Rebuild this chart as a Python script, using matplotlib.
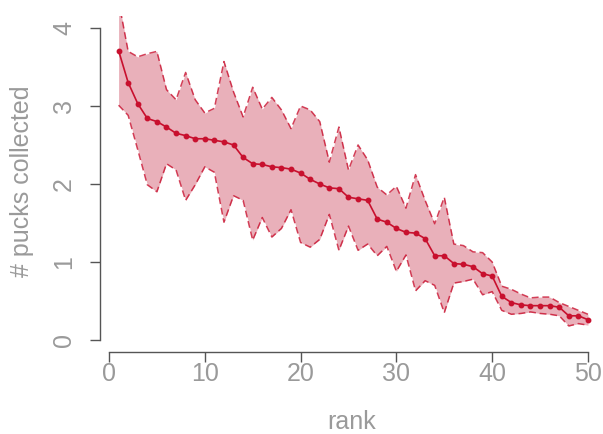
#!/usr/bin/env python3
import matplotlib

matplotlib.use("Agg")
import matplotlib.pyplot as plt
import numpy as np

# rank 1..50, mean and band bounds
rank = np.arange(1, 51)
mean_pucks = [
    3.71, 3.30, 3.03, 2.84, 2.80, 2.73, 2.65, 2.62, 2.58, 2.58,
    2.56, 2.54, 2.50, 2.34, 2.26, 2.25, 2.22, 2.21, 2.19, 2.14,
    2.06, 2.00, 1.95, 1.94, 1.83, 1.81, 1.79, 1.55, 1.51, 1.43,
    1.38, 1.37, 1.30, 1.08, 1.08, 0.98, 0.97, 0.94, 0.85, 0.82,
    0.56, 0.48, 0.45, 0.44, 0.44, 0.44, 0.42, 0.31, 0.31, 0.26,
]
upper_pucks = [
    4.35, 3.70, 3.63, 3.67, 3.70, 3.21, 3.08, 3.43, 3.08, 2.91,
    2.97, 3.57, 3.18, 2.86, 3.24, 2.96, 3.11, 2.95, 2.71, 3.00,
    2.95, 2.80, 2.28, 2.73, 2.18, 2.50, 2.31, 1.96, 1.86, 1.97,
    1.69, 2.12, 1.79, 1.49, 1.83, 1.23, 1.21, 1.13, 1.12, 1.00,
    0.69, 0.65, 0.59, 0.54, 0.55, 0.55, 0.48, 0.43, 0.38, 0.33,
]
lower_pucks = [
    3.01, 2.88, 2.44, 1.99, 1.90, 2.26, 2.18, 1.79, 1.99, 2.22,
    2.15, 1.51, 1.85, 1.79, 1.28, 1.57, 1.32, 1.43, 1.67, 1.25,
    1.19, 1.29, 1.61, 1.15, 1.46, 1.15, 1.23, 1.08, 1.20, 0.88,
    1.09, 0.63, 0.76, 0.70, 0.35, 0.73, 0.75, 0.78, 0.58, 0.62,
    0.38, 0.33, 0.34, 0.36, 0.34, 0.33, 0.31, 0.18, 0.21, 0.19,
]
x_ticks = [0, 10, 20, 30, 40, 50]
y_ticks = [0, 1, 2, 3, 4]

RED = "#C8102E"
FILL = "#E9B0BA"
GREY_TXT = "#9A9A9A"
AXIS_COL = "#555555"
FS = 18

plt.rcParams["font.family"] = ["Liberation Sans", "DejaVu Sans"]

fig = plt.figure(figsize=(6.03, 4.34), dpi=100)
W, H = 603, 434
left, right, top, bottom = 100, 603, 15.5, 352
ax = fig.add_axes([left / W, (H - bottom) / H, (right - left) / W, (bottom - top) / H])

ax.fill_between(rank, lower_pucks, upper_pucks, color=FILL, lw=0)
ax.plot(rank, upper_pucks, color=RED, alpha=0.8, lw=1.1, dashes=(4.5, 2.5))
ax.plot(rank, lower_pucks, color=RED, alpha=0.8, lw=1.1, dashes=(4.5, 2.5))
ax.plot(rank, mean_pucks, color=RED, lw=1.2, marker="o", ms=3.2)

ax.set_xlim(-0.94, 51.57)
ax.set_ylim(-0.154, 4.16)

for s in ("top", "right"):
    ax.spines[s].set_visible(False)
ax.spines["left"].set_bounds(0, 4)
ax.spines["bottom"].set_bounds(0, 50)
for s in ("left", "bottom"):
    ax.spines[s].set_color(AXIS_COL)
    ax.spines[s].set_linewidth(1.0)

ax.set_xticks(x_ticks)
ax.set_yticks(y_ticks)
ax.tick_params(axis="both", direction="out", length=7.2, width=1.0,
               color=AXIS_COL, labelcolor=GREY_TXT, labelsize=FS)
ax.tick_params(axis="x", pad=0.0)
ax.tick_params(axis="y", pad=10.0)
for lab in ax.get_yticklabels():
    lab.set_rotation(90)
    lab.set_va("center")

ax.set_xlabel("rank", fontsize=FS, color=GREY_TXT)
ax.set_ylabel("# pucks collected", fontsize=FS, color=GREY_TXT)
ax.xaxis.set_label_coords(0.5, -0.172)
ax.yaxis.set_label_coords(-0.131, 0.508)

fig.savefig("out.png", dpi=100)
plt.close(fig)
